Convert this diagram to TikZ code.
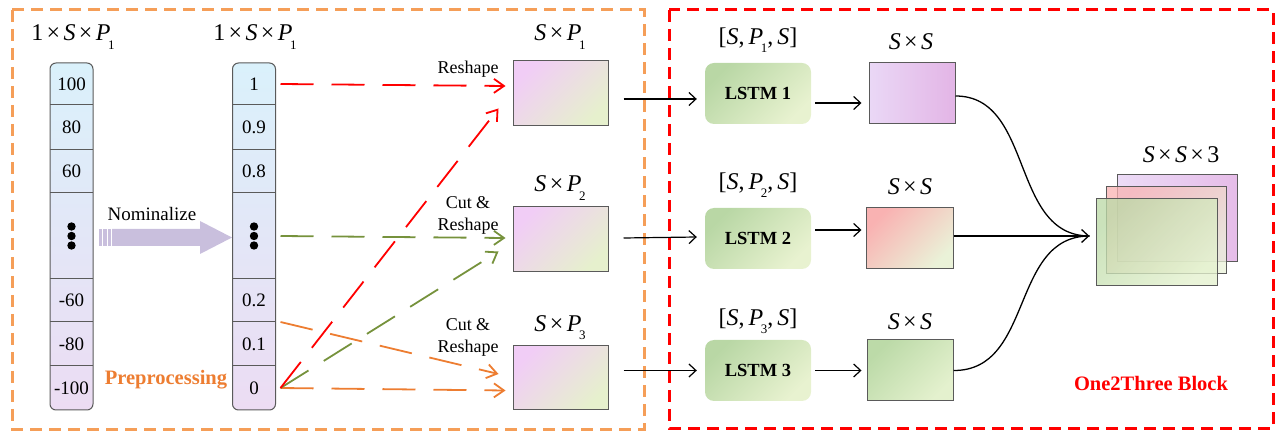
\documentclass[tikz,border=0pt]{standalone}
\usepackage{fontspec}
\setmainfont{Liberation Serif}
\usetikzlibrary{arrows.meta,backgrounds,calc}

\definecolor{colTop}{RGB}{218,241,251}
\definecolor{colBot}{RGB}{236,220,243}
\definecolor{nomCol}{RGB}{201,191,221}
\definecolor{oraD}{RGB}{237,125,49}
\definecolor{oraBox}{RGB}{245,158,88}
\definecolor{grnD}{RGB}{118,146,60}
\definecolor{midTL}{RGB}{241,205,246}
\definecolor{midBR}{RGB}{230,240,205}
\definecolor{lstmTL}{RGB}{185,215,165}
\definecolor{lstmBR}{RGB}{232,242,208}
\definecolor{sOneL}{RGB}{234,216,246}
\definecolor{sOneR}{RGB}{227,181,230}
\definecolor{sTwoTL}{RGB}{249,178,178}
\definecolor{sTwoBR}{RGB}{234,242,216}
\definecolor{sThrTL}{RGB}{188,218,168}
\definecolor{sThrBR}{RGB}{228,241,206}
\definecolor{boxLine}{RGB}{90,90,90}

\newcommand{\iS}{\textit{S}}
\newcommand{\iP}{\textit{P}}
\newcommand{\tm}{\hspace{0.14em}×\hspace{0.14em}}
\newcommand{\sbs}[1]{\kern-0.1em\raisebox{-0.34em}{\fontsize{13}{13}\selectfont #1}}

\begin{document}
\begin{tikzpicture}[x=1pt,y=-1pt,
  lab/.style={font=\fontsize{24}{26}\selectfont, inner sep=0pt},
  num/.style={font=\fontsize{19}{21}\selectfont},
  small/.style={font=\fontsize{18}{22}\selectfont, align=center, inner sep=0pt},
  cell/.style={minimum width=43, inner sep=0pt, outer sep=0pt},
  midbox/.style={draw=boxLine, line width=1pt, minimum width=95, minimum height=65, inner sep=0pt,
     shade, top color=midTL, bottom color=midBR, shading angle=45},
  lstm/.style={rounded corners=9, minimum width=106, minimum height=61, inner sep=0pt,
     shade, top color=lstmTL, bottom color=lstmBR, shading angle=45,
     font=\bfseries\fontsize{18.5}{20}\selectfont},
  sbox/.style={draw=boxLine, line width=1pt, minimum width=86, minimum height=61, inner sep=0pt},
  dasharrow/.style={line width=1.8pt, dash pattern=on 33pt off 18pt,
     -{Straight Barb[length=10pt,width=14pt]}},
  sarrow/.style={line width=1.2pt, -{Straight Barb[length=7pt,width=13pt]}},
  frame/.style={line width=3pt, dash pattern=on 12pt off 7pt},
]
\useasboundingbox (0,0) rectangle (1277,435);

% frames
\draw[frame, oraBox] (12,10) rectangle (644,429);
\draw[frame, red] (669,10) rectangle (1273,428);

% columns
\foreach \i/\c/\h/\ta/\tb in {1/84/42/100/1, 2/127.5/45/80/0.9, 3/171.5/43/60/0.8, 4/236/86//, 5/300.5/43/-60/0.2, 6/344/44/-80/0.1, 7/388/44/-100/0}{
  \node[cell, num, minimum height=\h] (a\i) at (71.5,\c) {\ta};
  \node[cell, num, minimum height=\h] (b\i) at (254,\c) {\tb};
}
\begin{pgfonlayer}{background}
  \shade[rounded corners=6, top color=colTop, bottom color=colBot] (a1.north west) rectangle (a7.south east);
  \shade[rounded corners=6, top color=colTop, bottom color=colBot] (b1.north west) rectangle (b7.south east);
\end{pgfonlayer}
\draw[line width=1pt, rounded corners=6, boxLine] (a1.north west) rectangle (a7.south east);
\draw[line width=1pt, rounded corners=6, boxLine] (b1.north west) rectangle (b7.south east);
\foreach \i in {1,...,6}{
  \draw[line width=1pt, boxLine] (a\i.south west) -- (a\i.south east);
  \draw[line width=1pt, boxLine] (b\i.south west) -- (b\i.south east);
}
\foreach \n in {a4,b4}{
  \fill (\n.center) circle (4.2);
  \fill ($(\n.center)+(0,-9.5)$) circle (4.2);
  \fill ($(\n.center)+(0,9.5)$) circle (4.2);
}

\node[lab] (la) at (73,37) {1\tm\iS\tm\iP\sbs{1}};
\node[lab] (lb) at (255,37) {1\tm\iS\tm\iP\sbs{1}};

% nominalize arrow
\fill[nomCol] (112,229) -- (200,229) -- (200,221) -- (232,237.5) -- (200,254) -- (200,246) -- (112,246) -- cycle;
\fill[nomCol] (99,229) rectangle (101.7,246);
\fill[nomCol] (103.3,229) rectangle (106.7,246);
\fill[nomCol] (108.3,229) rectangle (110.7,246);
\node[num] (nom) at (152,214) {Nominalize};
\node[font=\bfseries\fontsize{20.5}{22}\selectfont, text=oraD] (pre) at (166,380) {Preprocessing};

% middle boxes
\node[midbox] (m1) at (560.5,93.5) {};
\node[midbox] (m2) at (560.5,239.5) {};
\node[midbox, minimum height=64] (m3) at (560.5,378) {};
\node[lab] at (560,37) {\iS\tm\iP\sbs{1}};
\node[lab] at (560,188) {\iS\tm\iP\sbs{2}};
\node[lab] at (560,328) {\iS\tm\iP\sbs{3}};
\node[small] (t1) at (468,69) {Reshape};
\node[small] (t2) at (468,215) {Cut \&\\Reshape};
\node[small] (t3) at (468,337.5) {Cut \&\\Reshape};

% dashed arrows
\draw[dasharrow, red] ([xshift=5pt]b1.east) -- ([xshift=-7pt,yshift=7.5pt]m1.west);
\draw[dasharrow, grnD] ([xshift=5pt]b4.east) -- ([xshift=-7pt,yshift=1.5pt]m2.west);
\draw[dasharrow, oraD] ([xshift=5pt]b5.south east) -- ([xshift=-14pt,yshift=4pt]m3.west);
\draw[dasharrow, oraD] ([xshift=5pt]b7.east) -- ([xshift=-7pt,yshift=20pt]m3.south west);
\draw[dasharrow, grnD] ([xshift=5pt]b7.east) -- ([xshift=-14pt,yshift=21pt]m2.south west);
\draw[dasharrow, red] ([xshift=5pt]b7.east) -- ([xshift=-14pt,yshift=18pt]m1.south west);

% LSTM
\node[lstm] (L1) at (758,93.5) {LSTM 1};
\node[lstm] (L2) at (758,238.5) {LSTM 2};
\node[lstm] (L3) at (758,370.5) {LSTM 3};
\node[lab] at (758,40) {{[}\iS,\,\iP\sbs{1},\,\iS{]}};
\node[lab] at (758,185) {{[}\iS,\,\iP\sbs{2},\,\iS{]}};
\node[lab] at (758,321) {{[}\iS,\,\iP\sbs{3},\,\iS{]}};

\draw[sarrow] ([xshift=15pt,yshift=-5.5pt]m1.east) -- ([xshift=-8pt,yshift=-5.5pt]L1.west);
\draw[sarrow] ([xshift=15pt,yshift=1.5pt]m2.east) -- ([xshift=-8pt,yshift=1.5pt]L2.west);
\draw[sarrow] ([xshift=15pt]m3.east |- L3.west) -- ([xshift=-8pt]L3.west);

% S x S boxes
\node[sbox, shade, left color=sOneL, right color=sOneR] (s1) at (912,93.5) {};
\node[sbox, minimum width=87, shade, top color=sTwoTL, bottom color=sTwoBR, shading angle=45] (s2) at (909.5,238.5) {};
\node[sbox, shade, top color=sThrTL, bottom color=sThrBR, shading angle=45] (s3) at (910,370.5) {};
\node[lab] at (911,42) {\iS\tm\iS};
\node[lab] at (910,187) {\iS\tm\iS};
\node[lab] at (910,322) {\iS\tm\iS};

\draw[sarrow] ([xshift=4pt,yshift=-9.5pt]L1.east) -- ([xshift=-7pt,yshift=-9.5pt]s1.west);
\draw[sarrow] ([xshift=4pt,yshift=8.5pt]L2.east) -- ([xshift=-4pt,yshift=8.5pt]s2.west);
\draw[sarrow] ([xshift=4pt]L3.east) -- ([xshift=-5pt]L3.east -| s3.west);

% stack
\node[sbox, minimum width=120, minimum height=87, shade, left color=sOneL, right color=sOneR, fill opacity=0.9] (k1) at (1177,218.5) {};
\node[sbox, minimum width=120, minimum height=87, shade, top color=sTwoTL, bottom color=sTwoBR, shading angle=45, fill opacity=0.75] (k2) at (1166,230.5) {};
\node[sbox, minimum width=121, minimum height=87, shade, top color=sThrTL, bottom color=sThrBR, shading angle=45, fill opacity=0.78] (k3) at (1156.5,242.5) {};
\node[lab] at (1181,155) {\iS\tm\iS\tm3};
\coordinate (join) at ([xshift=-6pt,yshift=6.5pt]k3.west);

\draw[line width=1.3pt] ([yshift=-2.5pt]s1.east) .. controls (1034,96) and (1010,236) .. (join);
\draw[line width=1.3pt] (s3.east) .. controls (1034,371) and (1010,236) .. (join);
\draw[sarrow, line width=1.3pt] (s2.east |- join) -- (join);

\node[font=\bfseries\fontsize{20.5}{22}\selectfont, text=red] (blk) at (1151,383) {One2Three Block};
\end{tikzpicture}
\end{document}
